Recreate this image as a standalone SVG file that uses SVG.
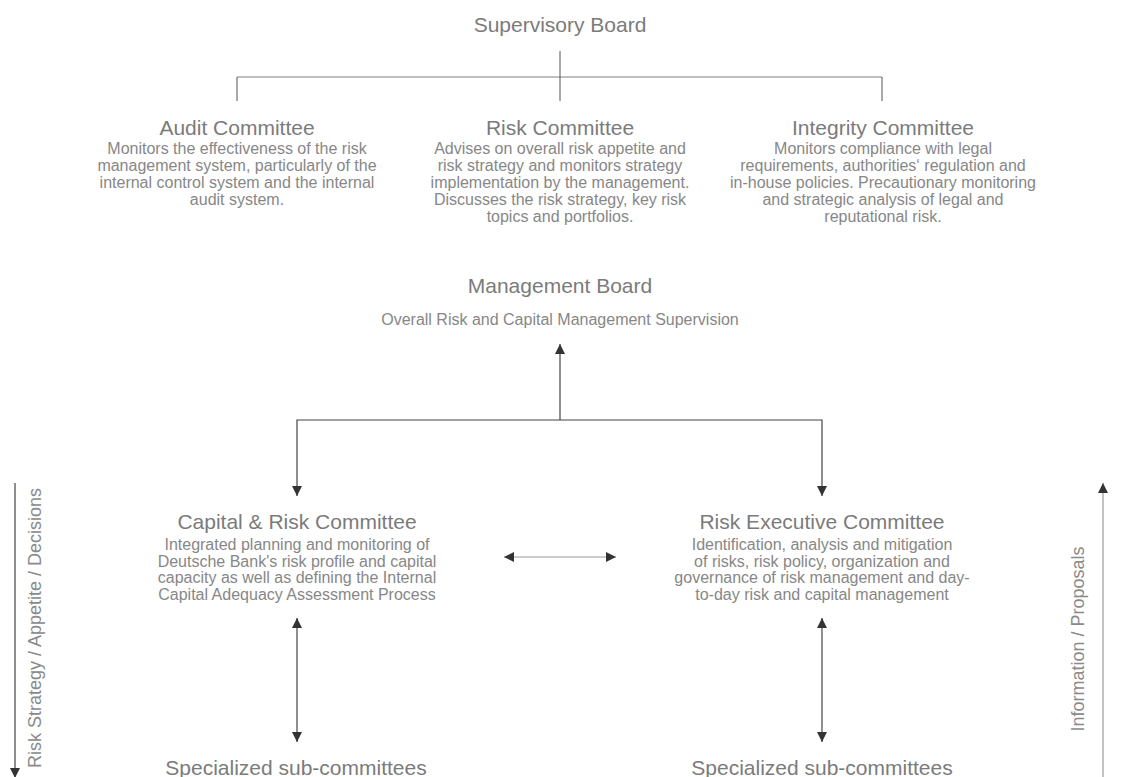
<svg xmlns="http://www.w3.org/2000/svg" width="1121" height="777" viewBox="0 0 1121 777">
<style>
text{font-family:"Liberation Sans",Arial,sans-serif;text-anchor:middle}
.t{font-size:21px;fill:#7b7b7b}
.b{font-size:16px;fill:#878787}
.s{font-size:16px;fill:#878787}
.ax{font-size:18px;fill:#8a8a8a}
.ln{fill:none;stroke:#555;stroke-width:1}
.lt{fill:none;stroke:#aaa;stroke-width:1.3}
.ar{fill:none;stroke:#444;stroke-width:1.2}
</style>
<defs>
<marker id="ah" viewBox="0 0 10 10" refX="10" refY="5" markerWidth="10" markerHeight="10" markerUnits="userSpaceOnUse" orient="auto-start-reverse">
<path d="M0,0 L10,5 L0,10 z" fill="#333"/>
</marker>
</defs>
<rect width="1121" height="777" fill="#fff"/>
<g id="connectors">
<line class="lt" x1="237" y1="77" x2="882" y2="77"/>
<line class="ln" x1="560" y1="51" x2="560" y2="101"/>
<line class="ln" x1="237" y1="77" x2="237" y2="101"/>
<line class="ln" x1="882" y1="77" x2="882" y2="101"/>
<line class="ar" x1="560" y1="420" x2="560" y2="344" marker-end="url(#ah)"/>
<polyline class="ar" points="560,420 297,420 297,496" marker-end="url(#ah)"/>
<polyline class="ar" points="560,420 822,420 822,496" marker-end="url(#ah)"/>
<line x1="504" y1="557" x2="616" y2="557" stroke="#bbb" stroke-width="1.5" marker-start="url(#ah)" marker-end="url(#ah)"/>
<line class="ar" x1="297" y1="618" x2="297" y2="742" marker-start="url(#ah)" marker-end="url(#ah)"/>
<line class="ar" x1="822" y1="618" x2="822" y2="742" marker-start="url(#ah)" marker-end="url(#ah)"/>
<line class="ar" x1="15" y1="483" x2="15" y2="778" marker-end="url(#ah)"/>
<line x1="1103" y1="777" x2="1103" y2="483" stroke="#999" stroke-width="1.2" marker-end="url(#ah)"/>
</g>
<g id="supervisory-board"><text class="t" x="560" y="32">Supervisory Board</text></g>
<g id="audit-committee">
<text class="t" x="237" y="135">Audit Committee</text>
<text class="b" x="237"><tspan x="237" y="154">Monitors the effectiveness of the risk</tspan><tspan x="237" y="171">management system, particularly of the</tspan><tspan x="237" y="188">internal control system and the internal</tspan><tspan x="237" y="205">audit system.</tspan></text>
</g>
<g id="risk-committee">
<text class="t" x="560" y="135">Risk Committee</text>
<text class="b" x="560"><tspan x="560" y="154">Advises on overall risk appetite and</tspan><tspan x="560" y="171">risk strategy and monitors strategy</tspan><tspan x="560" y="188">implementation by the management.</tspan><tspan x="560" y="205">Discusses the risk strategy, key risk</tspan><tspan x="560" y="222">topics and portfolios.</tspan></text>
</g>
<g id="integrity-committee">
<text class="t" x="883" y="135">Integrity Committee</text>
<text class="b" x="883"><tspan x="883" y="154">Monitors compliance with legal</tspan><tspan x="883" y="171">requirements, authorities‘ regulation and</tspan><tspan x="883" y="188">in-house policies. Precautionary monitoring</tspan><tspan x="883" y="205">and strategic analysis of legal and</tspan><tspan x="883" y="222">reputational risk.</tspan></text>
</g>
<g id="management-board">
<text class="t" x="560" y="293">Management Board</text>
<text class="s" x="560" y="325">Overall Risk and Capital Management Supervision</text>
</g>
<g id="capital-risk-committee">
<text class="t" x="297" y="529">Capital &amp; Risk Committee</text>
<text class="b" x="297"><tspan x="297" y="550">Integrated planning and monitoring of</tspan><tspan x="297" y="566.5">Deutsche Bank's risk profile and capital</tspan><tspan x="297" y="583">capacity as well as defining the Internal</tspan><tspan x="297" y="599.5">Capital Adequacy Assessment Process</tspan></text>
</g>
<g id="risk-executive-committee">
<text class="t" x="822" y="529">Risk Executive Committee</text>
<text class="b" x="822"><tspan x="822" y="550">Identification, analysis and mitigation</tspan><tspan x="822" y="566.5">of risks, risk policy, organization and</tspan><tspan x="822" y="583">governance of risk management and day-</tspan><tspan x="822" y="599.5">to-day risk and capital management</tspan></text>
</g>
<g id="sub-committees-left"><text class="t" x="296" y="775">Specialized sub-committees</text></g>
<g id="sub-committees-right"><text class="t" x="822" y="775">Specialized sub-committees</text></g>
<g id="axis-left"><text class="ax" transform="translate(41,628) rotate(-90)" x="0" y="0">Risk Strategy / Appetite / Decisions</text></g>
<g id="axis-right"><text class="ax" transform="translate(1084,639) rotate(-90)" x="0" y="0">Information / Proposals</text></g>
</svg>
